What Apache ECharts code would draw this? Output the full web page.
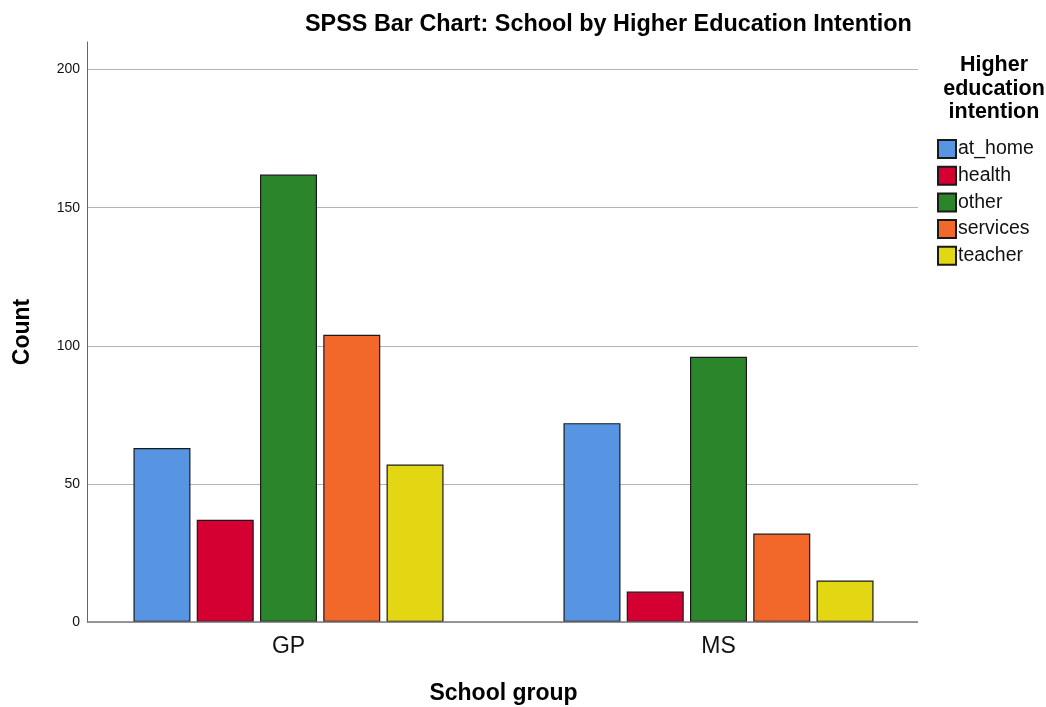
<!DOCTYPE html>
<html><head><meta charset="utf-8">
<script src="https://cdn.jsdelivr.net/npm/echarts@6/dist/echarts.min.js"></script>
<style>html,body{margin:0;padding:0;background:#fff}#c{width:1046px;height:707px}</style>
</head><body><div id="c"></div>
<script>
const schools = ['GP', 'MS'];
const intentions = ['at_home', 'health', 'other', 'services', 'teacher'];
const atHome = [63, 72];
const health = [37, 11];
const other = [162, 96];
const services = [104, 32];
const teacher = [57, 15];
const colors = ['#5795e3', '#d50032', '#2a852b', '#f2682a', '#e2d712'];
const seriesValues = [atHome, health, other, services, teacher];
const font = 'Liberation Sans, Arial, sans-serif';

const chart = echarts.init(document.getElementById('c'), null, {renderer: 'canvas'});
chart.setOption({
  animation: false,
  title: [
    {text: 'SPSS Bar Chart: School by Higher Education Intention', left: 300, top: 8,
     textStyle: {fontFamily: font, fontSize: 23.4, fontWeight: 'bold', color: '#000'}},
    {text: 'Higher\neducation\nintention', left: 989, top: 48, textAlign: 'center',
     textStyle: {fontFamily: font, fontSize: 21.5, fontWeight: 'bold', color: '#000', lineHeight: 23.8}}
  ],
  legend: {
    orient: 'vertical', left: 932, top: 134, itemWidth: 18, itemHeight: 18, itemGap: 6.7,
    icon: 'rect',
    textStyle: {fontFamily: font, fontSize: 19.5, color: '#111', lineHeight: 18, padding: [0, 0, 0, -3]},
    data: intentions
  },
  grid: [
    {left: 87, right: 128, top: 42, bottom: 85, outerBoundsMode: 'none', containLabel: false},
    {left: 73.5, width: 860, top: 42, bottom: 85, outerBoundsMode: 'none', containLabel: false}
  ],
  xAxis: [
    {gridIndex: 0, type: 'value', min: 0, max: 1, show: true,
     axisLine: {show: false}, axisTick: {show: false}, axisLabel: {show: false}, splitLine: {show: false}},
    {gridIndex: 1, type: 'category', data: schools,
     axisLine: {show: false}, axisTick: {show: false},
     axisLabel: {fontFamily: font, fontSize: 23, color: '#111', margin: 13},
     name: 'School group', nameLocation: 'middle', nameGap: 60,
     nameTextStyle: {fontFamily: font, fontSize: 23, fontWeight: 'bold', color: '#000'}}
  ],
  yAxis: [
    {gridIndex: 0, type: 'value', min: 0, max: 210, interval: 50,
     axisLine: {show: true, lineStyle: {color: '#666', width: 1}},
     axisTick: {show: false},
     axisLabel: {fontFamily: font, fontSize: 14, color: '#111', margin: 7, showMaxLabel: false,
       formatter: v => (v % 50 === 0 ? String(v) : '')},
     splitLine: {show: true, showMinLine: true, showMaxLine: false, lineStyle: {color: '#b4b4b4', width: 1.2}},
     name: 'Count', nameLocation: 'middle', nameGap: 53,
     nameTextStyle: {fontFamily: font, fontSize: 23, fontWeight: 'bold', color: '#000'}},
    {gridIndex: 1, type: 'value', min: 0, max: 210, show: false}
  ],
  series: [
    {type: 'line', xAxisIndex: 0, yAxisIndex: 0, data: [[0, 0], [1, 0]], symbol: 'none',
     lineStyle: {color: '#777', width: 1.5}, silent: true, legendHoverLink: false, z: 5}
  ].concat(intentions.map((name, i) => ({
    name: name, type: 'bar', xAxisIndex: 1, yAxisIndex: 1,
    data: seriesValues[i], barWidth: 57, barGap: '11%',
    itemStyle: {color: colors[i], borderColor: '#1a1a1a', borderWidth: 1.2}
  })))
});
</script></body></html>
